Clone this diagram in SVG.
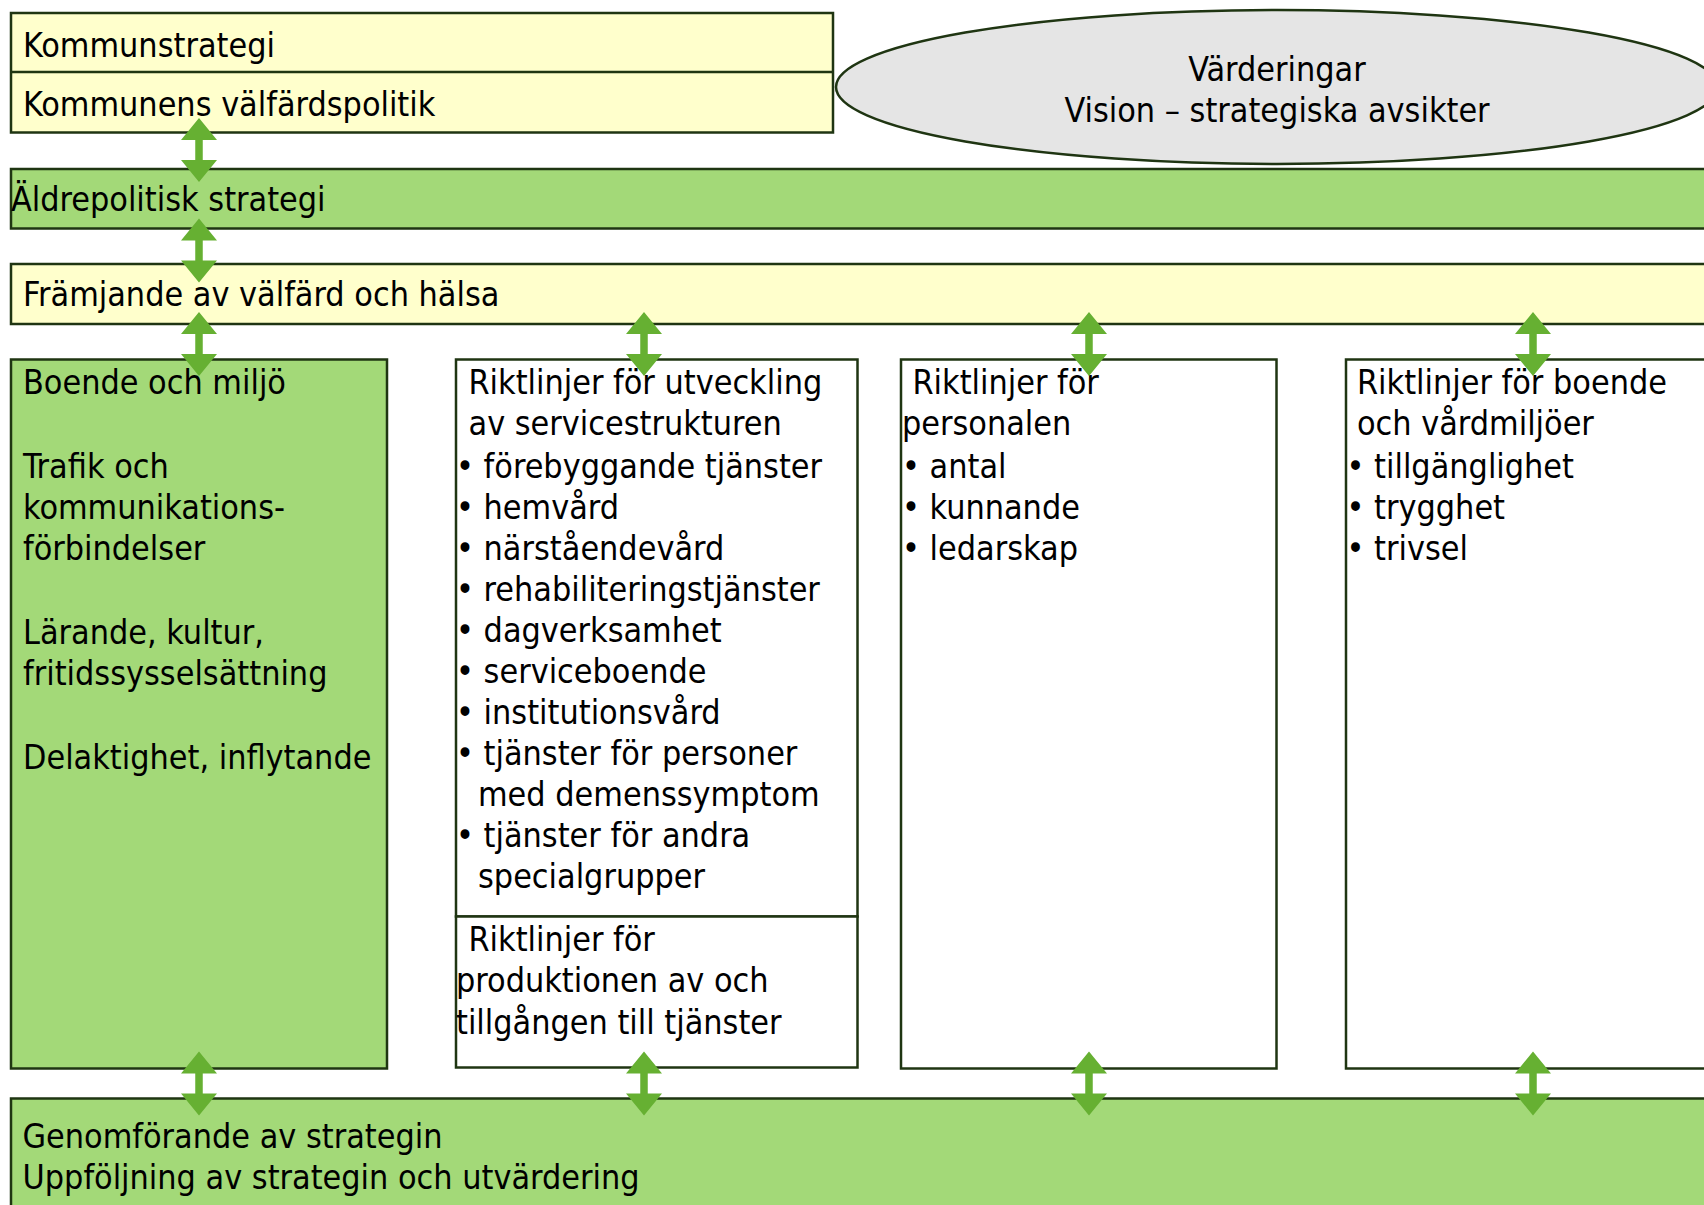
<svg xmlns="http://www.w3.org/2000/svg" width="1704" height="1205" viewBox="0 0 1704 1205">
<defs>
<style>
text{font-family:"DejaVu Sans Condensed","DejaVu Sans",sans-serif;font-stretch:condensed;font-size:33.8px;fill:#000}
.y{fill:#FFFFCC;stroke:#1F3512;stroke-width:2.5}
.g{fill:#A3D978;stroke:#1F3512;stroke-width:2.5}
.w{fill:#FFFFFF;stroke:#1F3512;stroke-width:2.5}
.e{fill:#E5E5E5;stroke:#1F3512;stroke-width:2.5}
.arr{fill:#66B032}
.c{text-anchor:middle}
</style>
<path id="dbl" d="M0,0 L18,22 L3.75,22 L3.75,42 L18,42 L0,64 L-18,42 L-3.75,42 L-3.75,22 L-18,22 Z"/>
</defs>
<rect width="1704" height="1205" fill="#FFFFFF"/>

<g id="kommun">
<rect class="y" x="11" y="13" width="822" height="119.5"/>
<line x1="11" y1="72" x2="833" y2="72" stroke="#1F3512" stroke-width="2.5"/>
<text x="23" y="57">Kommunstrategi</text>
<text x="23" y="115.5">Kommunens välfärdspolitik</text>
</g>

<g id="varderingar">
<ellipse class="e" cx="1277" cy="87" rx="441" ry="77"/>
<text class="c" x="1277" y="81">Värderingar</text>
<text class="c" x="1277" y="122">Vision – strategiska avsikter</text>
</g>

<g id="aldrepolitisk">
<rect class="g" x="11" y="169" width="1710" height="59.5"/>
<text x="11" y="211">Äldrepolitisk strategi</text>
</g>

<g id="framjande">
<rect class="y" x="11" y="264" width="1710" height="60"/>
<text x="23" y="306">Främjande av välfärd och hälsa</text>
</g>

<g id="boende-miljo">
<rect class="g" x="11" y="359.5" width="376" height="709"/>
<text x="23" y="394">Boende och miljö</text>
<text x="23" y="477.5">Trafik och</text>
<text x="23" y="519">kommunikations-</text>
<text x="23" y="560">förbindelser</text>
<text x="23" y="644">Lärande, kultur,</text>
<text x="23" y="685">fritidssysselsättning</text>
<text x="23" y="769">Delaktighet, inflytande</text>
</g>

<g id="servicestruktur">
<rect class="w" x="456" y="359.5" width="401.5" height="557"/>
<text x="468.5" y="394">Riktlinjer för utveckling</text>
<text x="468.5" y="435">av servicestrukturen</text>
<text x="456" y="478">• förebyggande tjänster</text>
<text x="456" y="519">• hemvård</text>
<text x="456" y="560">• närståendevård</text>
<text x="456" y="601">• rehabiliteringstjänster</text>
<text x="456" y="642">• dagverksamhet</text>
<text x="456" y="683">• serviceboende</text>
<text x="456" y="724">• institutionsvård</text>
<text x="456" y="765">• tjänster för personer</text>
<text x="478" y="806">med demenssymptom</text>
<text x="456" y="847">• tjänster för andra</text>
<text x="478" y="888">specialgrupper</text>
</g>

<g id="produktion">
<rect class="w" x="456" y="916.5" width="401.5" height="151"/>
<text x="468.5" y="950.5">Riktlinjer för</text>
<text x="456" y="992">produktionen av och</text>
<text x="456" y="1033.5">tillgången till tjänster</text>
</g>

<g id="personal">
<rect class="w" x="901" y="359.5" width="375.5" height="709"/>
<text x="912.5" y="394">Riktlinjer för</text>
<text x="902" y="435">personalen</text>
<text x="902" y="478">• antal</text>
<text x="902" y="519">• kunnande</text>
<text x="902" y="560">• ledarskap</text>
</g>

<g id="boende-vard">
<rect class="w" x="1346" y="359.5" width="375" height="709"/>
<text x="1357" y="394">Riktlinjer för boende</text>
<text x="1357" y="435">och vårdmiljöer</text>
<text x="1346.5" y="478">• tillgänglighet</text>
<text x="1346.5" y="519">• trygghet</text>
<text x="1346.5" y="560">• trivsel</text>
</g>

<g id="genomforande">
<rect class="g" x="11" y="1098.5" width="1710" height="120"/>
<text x="22.5" y="1147.5">Genomförande av strategin</text>
<text x="22.5" y="1188.5">Uppföljning av strategin och utvärdering</text>
</g>

<g id="connectors" class="arr">
<use href="#dbl" x="199" y="118"/>
<use href="#dbl" x="199" y="218.5"/>
<use href="#dbl" x="199" y="312"/>
<use href="#dbl" x="644" y="312"/>
<use href="#dbl" x="1089" y="312"/>
<use href="#dbl" x="1533" y="312"/>
<use href="#dbl" x="199" y="1051.5"/>
<use href="#dbl" x="644" y="1051.5"/>
<use href="#dbl" x="1089" y="1051.5"/>
<use href="#dbl" x="1533" y="1051.5"/>
</g>
</svg>
